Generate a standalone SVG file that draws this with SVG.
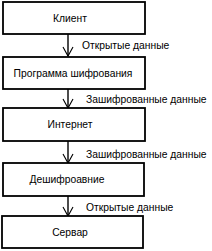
<svg xmlns="http://www.w3.org/2000/svg" width="212" height="251" viewBox="0 0 212 251">
<defs>
<style>
.box{fill:#fff;stroke:#000;stroke-width:1.8}
.t{font-family:"Liberation Sans",Arial,sans-serif;font-size:10.3px;fill:#000}
.c{text-anchor:middle}
.ln{stroke:#000;stroke-width:1.4;fill:none}
</style>
<marker id="ah" markerWidth="12" markerHeight="12" refX="10" refY="6" orient="auto" markerUnits="userSpaceOnUse">
<path d="M1,1 L10,6 L1,11" fill="none" stroke="#000" stroke-width="1.1"/>
</marker>
</defs>
<rect width="212" height="251" fill="#fff"/>
<g id="connectors">
<line class="ln" x1="68" y1="34" x2="68" y2="56" marker-end="url(#ah)"/>
<line class="ln" x1="68" y1="89" x2="68" y2="108" marker-end="url(#ah)"/>
<line class="ln" x1="68" y1="141" x2="68" y2="163" marker-end="url(#ah)"/>
<line class="ln" x1="68" y1="196" x2="68" y2="216" marker-end="url(#ah)"/>
<text class="t" x="82" y="49">Открытые данные</text>
<text class="t" x="86" y="103">Зашифрованные данные</text>
<text class="t" x="86" y="158">Зашифрованные данные</text>
<text class="t" x="86" y="211">Открытые данные</text>
</g>
<g id="n1"><rect class="box" x="3" y="2" width="142" height="32"/><text class="t c" x="70" y="22">Клиент</text></g>
<g id="n2"><rect class="box" x="3" y="57" width="142" height="32"/><text class="t c" x="73" y="77">Программа шифрования</text></g>
<g id="n3"><rect class="box" x="3" y="108" width="142" height="33"/><text class="t c" x="70" y="128">Интернет</text></g>
<g id="n4"><rect class="box" x="3" y="163" width="141" height="33"/><text class="t c" x="67" y="183">Дешифроавние</text></g>
<g id="n5"><rect class="box" x="2" y="216" width="141" height="32"/><text class="t c" x="70" y="236">Сервар</text></g>
</svg>
